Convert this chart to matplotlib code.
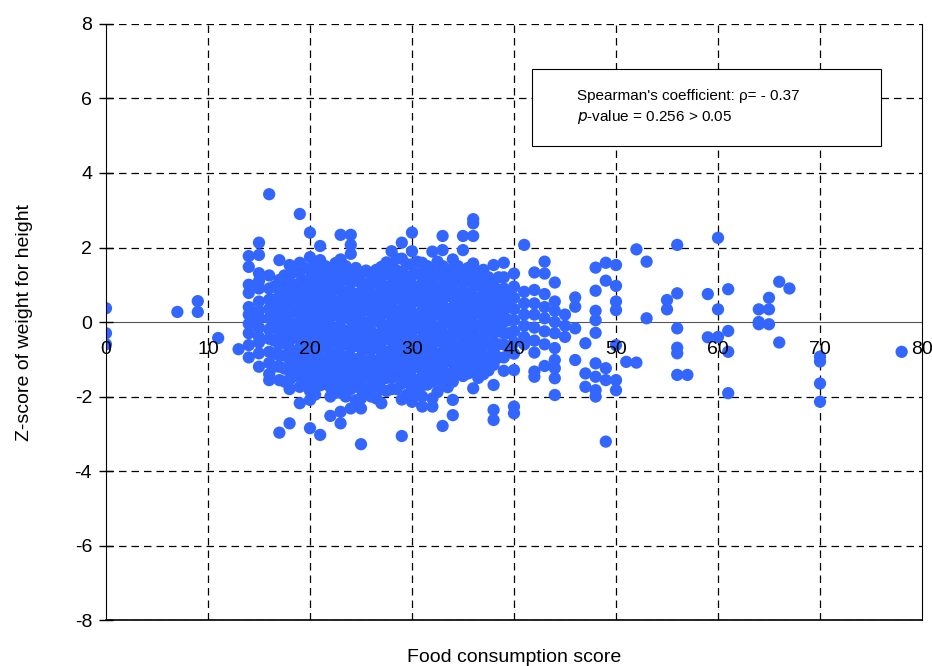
import matplotlib
matplotlib.use("Agg")
import matplotlib.pyplot as plt
import numpy as np

plt.rcParams["font.family"] = ["Liberation Sans", "DejaVu Sans"]
plt.rcParams["axes.unicode_minus"] = False

# Food consumption score columns and the z-scores
score_cols = [0, 7, 9, 11, 13, 14, 15, 16, 17, 18, 19, 20, 21, 22, 23, 24, 25,
              26, 27, 28, 29, 30, 31, 32, 33, 34, 35, 36, 37, 38, 39, 40, 41,
              42, 43, 44, 45, 46, 47, 48, 49, 50, 51, 52, 53, 55, 56, 57, 59,
              60, 61, 64, 65, 66, 67, 70, 78]
z_cols = [
    [0.37, -0.3, -0.6],
    [0.27],
    [0.56, 0.27],
    [-0.43],
    [-0.73],
    [1.77, 1.48, 1.0, 0.78, 0.4, 0.2, -0.05, -0.3, -0.62, -0.95],
    [2.13, 1.8, 1.31, 1.1, 0.9, 0.55, 0.3, 0.1, -0.15, -0.4, -0.55, -0.84, -1.2],
    [3.43, 1.25, 0.9, 0.6, 0.35, 0.1, -0.2, -0.45, -0.8, -1.1, -1.4, -1.56],
    [1.66, 1.13, 0.95, 0.7, 0.4, 0.15, -0.1, -0.35, -0.6, -0.9, -1.2, -1.56, -2.97],
    [1.53, 1.26, 1.0, 0.75, 0.5, 0.25, 0.0, -0.25, -0.5, -0.75, -1.0, -1.3, -1.55, -1.8, -2.72],
    [2.9, 1.59, 1.33, 1.05, 0.8, 0.55, 0.3, 0.05, -0.2, -0.45, -0.7, -0.95, -1.2, -1.45, -1.74, -2.18],
    [2.4, 1.74, 1.4, 1.15, 0.9, 0.65, 0.4, 0.15, -0.1, -0.35, -0.6, -0.85, -1.1, -1.35, -1.6, -1.85, -2.09, -2.85],
    [2.04, 1.66, 1.3, 1.05, 0.8, 0.55, 0.3, 0.05, -0.2, -0.45, -0.7, -0.95, -1.2, -1.45, -1.7, -3.03],
    [1.4, 1.15, 0.9, 0.65, 0.4, 0.15, -0.1, -0.35, -0.6, -0.85, -1.1, -1.35, -1.5, -1.75, -2.0, -2.52],
    [2.34, 1.68, 1.35, 1.1, 0.85, 0.6, 0.35, 0.1, -0.15, -0.4, -0.65, -0.9, -1.15, -1.4, -1.65, -1.9, -2.41, -2.72],
    [2.34, 2.07, 1.83, 1.3, 1.05, 0.8, 0.55, 0.3, 0.05, -0.2, -0.45, -0.7, -0.95, -1.2, -1.5, -1.8, -2.32],
    [1.3, 1.05, 0.8, 0.55, 0.3, 0.05, -0.2, -0.45, -0.7, -0.95, -1.2, -1.56, -1.8, -2.05, -2.32, -3.28],
    [1.26, 1.0, 0.75, 0.5, 0.25, 0.0, -0.25, -0.5, -0.75, -1.0, -1.25, -1.5, -1.75, -2.0],
    [1.48, 1.2, 0.95, 0.7, 0.45, 0.2, -0.05, -0.3, -0.55, -0.8, -1.05, -1.3, -1.55, -1.8, -2.18],
    [1.9, 1.5, 1.25, 1.0, 0.75, 0.5, 0.25, 0.0, -0.25, -0.5, -0.75, -1.0, -1.25, -1.5, -1.8],
    [2.13, 1.7, 1.35, 1.1, 0.85, 0.6, 0.35, 0.1, -0.15, -0.4, -0.65, -0.9, -1.15, -1.4, -1.65, -2.08, -3.06],
    [2.4, 1.9, 1.55, 1.25, 1.0, 0.75, 0.5, 0.25, 0.0, -0.25, -0.5, -0.75, -1.0, -1.25, -1.5, -1.8, -2.14],
    [1.59, 1.3, 1.05, 0.8, 0.55, 0.3, 0.05, -0.2, -0.45, -0.7, -0.95, -1.2, -1.45, -1.7, -2.0, -2.27],
    [1.89, 1.4, 1.15, 0.9, 0.65, 0.4, 0.15, -0.1, -0.35, -0.6, -0.85, -1.1, -1.35, -1.6, -2.05, -2.27],
    [2.31, 1.93, 1.5, 1.2, 0.95, 0.7, 0.45, 0.2, -0.05, -0.3, -0.55, -0.8, -1.05, -1.3, -1.6, -2.79],
    [1.68, 1.4, 1.15, 0.9, 0.65, 0.4, 0.15, -0.1, -0.35, -0.6, -0.85, -1.1, -1.35, -1.6, -2.09, -2.5],
    [2.31, 1.93, 1.31, 1.05, 0.8, 0.55, 0.3, 0.05, -0.2, -0.45, -0.7, -0.95, -1.2, -1.45],
    [2.76, 2.65, 2.31, 1.57, 1.2, 0.95, 0.7, 0.45, 0.2, -0.05, -0.3, -0.55, -0.8, -1.05, -1.3, -1.78],
    [1.4, 1.1, 0.85, 0.6, 0.35, 0.1, -0.15, -0.4, -0.65, -0.9, -1.15, -1.4],
    [1.53, 0.98, 0.7, 0.45, 0.2, -0.05, -0.3, -0.55, -0.8, -1.15, -1.69, -2.36, -2.63],
    [1.59, 1.2, 0.9, 0.6, 0.3, 0.0, -0.3, -0.6, -0.95, -1.31],
    [1.3, 0.95, 0.65, 0.35, 0.05, -0.25, -0.55, -0.85, -1.29, -2.27, -2.45],
    [2.07, 0.81, 0.5, 0.2, -0.1, -0.4, -0.6],
    [1.33, 0.86, 0.5, 0.2, -0.15, -0.5, -0.82, -1.33, -1.47],
    [1.62, 1.3, 0.75, 0.4, 0.1, -0.25, -0.6, -1.18],
    [1.06, 0.55, 0.3, 0.0, -0.3, -0.7, -1.02, -1.24, -1.51, -1.96],
    [0.2, -0.1, -0.4],
    [0.66, 0.41, -0.17, -1.02],
    [-0.57, -1.38, -1.74],
    [1.46, 0.84, 0.3, 0.05, -0.29, -1.11, -1.47, -1.83, -2.0],
    [1.59, 1.11, -1.24, -1.56, -3.21],
    [1.53, 0.97, 0.55, 0.32, -0.62, -1.56, -1.83],
    [-1.07],
    [1.95, -1.09],
    [1.62, 0.1],
    [0.59, 0.34],
    [2.07, 0.77, -0.17, -0.69, -0.84, -1.42],
    [-1.42],
    [0.75, -0.41],
    [2.26, 0.34, -0.4],
    [0.88, -0.24, -0.8, -1.91],
    [0.34, 0.0, -0.06],
    [0.65, 0.34, -0.06],
    [1.08, -0.55],
    [0.9],
    [-0.93, -1.06, -1.65, -2.14],
    [-0.8],
]

# half-point scores inside the dense core
half_cols = [16.5, 17.5, 18.5, 19.5, 20.5, 21.5, 22.5, 23.5, 24.5, 25.5, 26.5,
             27.5, 28.5, 29.5, 30.5, 31.5, 32.5, 33.5, 34.5, 35.5, 36.5, 37.5,
             38.5, 39.5]
half_z = [
    [0.95, 0.6, 0.25, -0.1, -0.5, -0.85, -1.2],
    [1.25, 0.85, 0.5, 0.15, -0.2, -0.55, -0.9, -1.25, -1.6],
    [1.35, 1.0, 0.62, 0.28, -0.08, -0.42, -0.78, -1.12, -1.45],
    [1.45, 1.1, 0.72, 0.38, 0.02, -0.32, -0.68, -1.02, -1.38, -1.7],
    [1.55, 1.22, 0.85, 0.5, 0.12, -0.22, -0.58, -0.92, -1.28, -1.62, -1.95],
    [1.5, 1.15, 0.78, 0.42, 0.08, -0.28, -0.62, -0.98, -1.32, -1.66],
    [1.58, 1.25, 0.88, 0.52, 0.18, -0.18, -0.52, -0.88, -1.22, -1.58, -1.9],
    [1.5, 1.18, 0.82, 0.46, 0.12, -0.24, -0.58, -0.94, -1.28, -1.62, -2.0],
    [1.45, 1.12, 0.76, 0.4, 0.05, -0.3, -0.64, -1.0, -1.35, -1.68, -2.1],
    [1.38, 1.02, 0.68, 0.32, -0.02, -0.38, -0.72, -1.08, -1.42, -1.78],
    [1.4, 1.08, 0.72, 0.36, 0.02, -0.34, -0.68, -1.04, -1.38, -1.72, -2.05],
    [1.6, 1.3, 0.95, 0.6, 0.25, -0.1, -0.45, -0.8, -1.15, -1.5, -1.85],
    [1.7, 1.38, 1.02, 0.66, 0.3, -0.04, -0.4, -0.74, -1.1, -1.44, -1.8],
    [1.55, 1.22, 0.86, 0.5, 0.15, -0.2, -0.55, -0.9, -1.25, -1.6, -1.95],
    [1.62, 1.3, 0.92, 0.56, 0.2, -0.16, -0.5, -0.86, -1.2, -1.56, -1.9],
    [1.5, 1.15, 0.8, 0.44, 0.08, -0.28, -0.62, -0.98, -1.32, -1.68],
    [1.62, 1.28, 0.92, 0.56, 0.2, -0.15, -0.5, -0.85, -1.2, -1.55, -1.88],
    [1.4, 1.05, 0.7, 0.34, -0.02, -0.36, -0.72, -1.06, -1.42, -1.75],
    [1.5, 1.12, 0.76, 0.4, 0.05, -0.3, -0.66, -1.0, -1.35],
    [1.45, 1.1, 0.74, 0.38, 0.02, -0.34, -0.68, -1.04, -1.38],
    [1.35, 1.0, 0.62, 0.26, -0.1, -0.45, -0.8, -1.15, -1.5],
    [1.2, 0.82, 0.46, 0.1, -0.25, -0.6, -0.95, -1.3],
    [1.2, 0.8, 0.45, 0.1, -0.25, -0.6, -0.95],
    [0.75, 0.4, 0.05, -0.3, -0.7],
]

x_ticks = [0, 10, 20, 30, 40, 50, 60, 70, 80]
y_ticks = [-8, -6, -4, -2, 0, 2, 4, 6, 8]
stats_text = "Spearman's coefficient: ρ= - 0.37\n$p$-value = 0.256 > 0.05"

fcs = []
whz = []
for s, zs in zip(score_cols + half_cols, z_cols + half_z):
    for z in zs:
        fcs.append(s)
        whz.append(z)

fig = plt.figure(figsize=(9.32, 6.66), dpi=100)
ax = fig.add_axes([0.1137, 0.069, 0.8756, 0.895])

# dashed grid drawn behind the points
for v in x_ticks[1:-1]:
    ax.axvline(v, color="black", lw=0.9, ls=(0, (6, 4)), zorder=0.5)
for v in y_ticks:
    if v != 0:
        ax.axhline(v, color="black", lw=0.9, ls=(0, (6, 4)), zorder=0.5)

ax.scatter(fcs, whz, s=78, color="#3366FF", edgecolors="none", zorder=2)

ax.set_xlim(0, 80)
ax.set_ylim(-8, 8)
ax.set_xticks(x_ticks)
ax.set_yticks(y_ticks)

ax.spines["bottom"].set_position(("data", 0))
ax.spines["bottom"].set_color("#555555")
ax.spines["bottom"].set_zorder(1.5)
ax.spines["top"].set_visible(False)
ax.axhline(-8, color="black", lw=1.2, zorder=3, clip_on=False)

# tick labels sit on top of the point cloud
ax.xaxis.set_zorder(5)
ax.yaxis.set_zorder(5)
ax.tick_params(axis="x", length=0, pad=14, labelsize=14)
ax.tick_params(axis="y", direction="inout", length=10, width=1, pad=5, labelsize=14)

ax.set_ylabel("Z-score of weight for height", fontsize=14, labelpad=30)
ax.text(40, -9.0, "Food consumption score", ha="center", va="center", fontsize=14)

box = plt.Rectangle((41.8, 4.72), 34.2, 2.07, fc="white", ec="black", lw=0.8, zorder=3.5)
ax.add_patch(box)
ax.text(46.2, 5.76, stats_text, fontsize=11, va="center", ha="left", linespacing=1.4,
        zorder=4)

fig.savefig("out.png", dpi=100)
